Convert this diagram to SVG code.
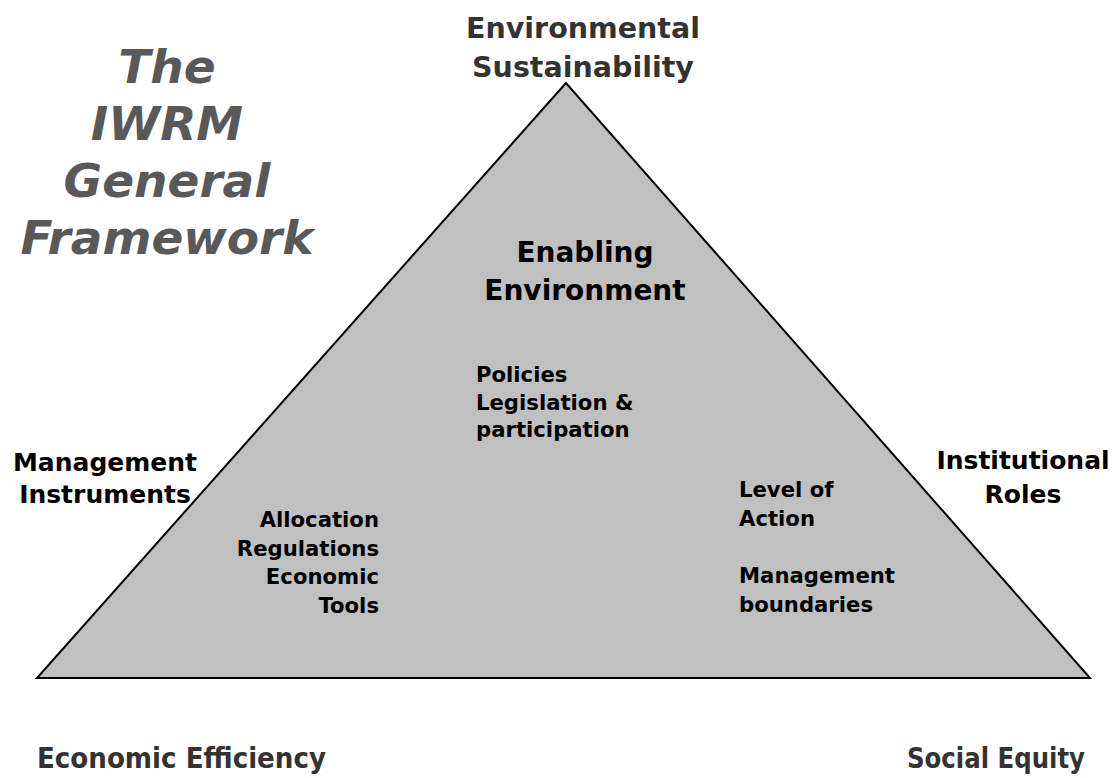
<svg xmlns="http://www.w3.org/2000/svg" width="1119" height="778" viewBox="0 0 1119 778">
<style>
text{font-family:"DejaVu Sans","Verdana",sans-serif;font-weight:bold}
.title{font-style:italic;fill:#595959;font-size:47px;text-anchor:middle}
.corner{fill:#333333;font-size:28.5px}
.bottom{fill:#333333;font-size:29px}
.big{fill:#000;font-size:28px;text-anchor:middle}
.side{fill:#000;font-size:25px;text-anchor:middle}
.in{fill:#000;font-size:21.2px}
</style>
<rect width="1119" height="778" fill="#ffffff"/>
<g id="triangle">
<polygon points="566,83 37,678 1090,678" fill="#c0c0c0" stroke="#000" stroke-width="2"/>
</g>
<g id="title">
<text class="title" x="167" y="83">The</text>
<text class="title" x="167" y="140">IWRM</text>
<text class="title" x="167" y="197">General</text>
<text class="title" x="167" y="254">Framework</text>
</g>
<g id="env-sustainability">
<text class="corner" x="583" y="38" text-anchor="middle">Environmental</text>
<text class="corner" x="583" y="77" text-anchor="middle">Sustainability</text>
</g>
<g id="enabling">
<text class="big" x="585" y="262">Enabling</text>
<text class="big" x="585" y="300">Environment</text>
<text class="in" x="476" y="382">Policies</text>
<text class="in" x="476" y="410">Legislation &amp;</text>
<text class="in" x="476" y="437">participation</text>
</g>
<g id="mgmt-instruments">
<text class="side" x="105" y="471">Management</text>
<text class="side" x="105" y="503">Instruments</text>
<text class="in" x="379" y="527" text-anchor="end">Allocation</text>
<text class="in" x="379" y="556" text-anchor="end">Regulations</text>
<text class="in" x="379" y="584" text-anchor="end">Economic</text>
<text class="in" x="379" y="613" text-anchor="end">Tools</text>
</g>
<g id="institutional">
<text class="side" x="1023" y="469">Institutional</text>
<text class="side" x="1023" y="503">Roles</text>
<text class="in" x="739" y="497">Level of</text>
<text class="in" x="739" y="526">Action</text>
<text class="in" x="739" y="583">Management</text>
<text class="in" x="739" y="612">boundaries</text>
</g>
<g id="economic-efficiency">
<text class="bottom" x="37" y="768" textLength="289" lengthAdjust="spacingAndGlyphs">Economic Efficiency</text>
</g>
<g id="social-equity">
<text class="bottom" x="907" y="768" textLength="178" lengthAdjust="spacingAndGlyphs">Social Equity</text>
</g>
<g id="connectors"></g>
</svg>
